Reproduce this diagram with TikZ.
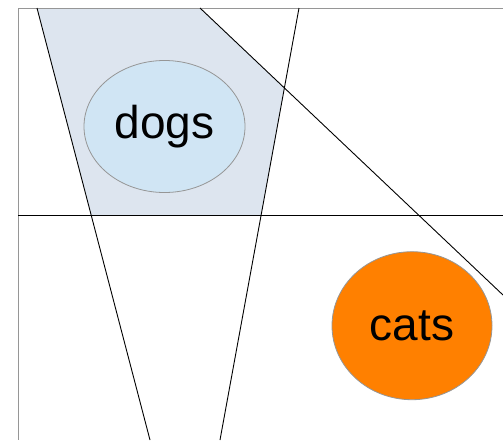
\documentclass[tikz,border=0pt]{standalone}
\usepackage{fontspec}
\setmainfont{Liberation Sans}
\usetikzlibrary{shapes.geometric,calc}
\definecolor{regionfill}{RGB}{221,229,239}
\definecolor{dogfill}{RGB}{208,229,244}
\definecolor{catfill}{RGB}{255,128,0}
\definecolor{framegray}{RGB}{150,150,150}
\tikzset{
  blob/.style={ellipse, draw=framegray, line width=0.8pt, inner sep=0pt, font=\fontsize{46}{52}\selectfont},
  thin line/.style={draw=black, line width=0.9pt},
  frame line/.style={draw=framegray, line width=0.9pt}
}
\begin{document}
\begin{tikzpicture}[x=1pt,y=-1pt]
\useasboundingbox (0,0) rectangle (503,440);
% key coordinates
\coordinate (l1t) at (37,8);
\coordinate (l1b) at (150,440);
\coordinate (l2t) at (299,8);
\coordinate (l2b) at (220,440);
\coordinate (l3t) at (200,8);
\coordinate (l3b) at (503,295);
\coordinate (hl) at (18,215.5);
\coordinate (hr) at (503,215.5);
\coordinate (X) at (intersection of l2t--l2b and l3t--l3b);
\coordinate (A) at (intersection of l1t--l1b and hl--hr);
\coordinate (B) at (intersection of l2t--l2b and hl--hr);
% shaded region
\fill[regionfill] (l1t) -- (l3t) -- (X) -- (B) -- (A) -- cycle;
\draw[framegray, line width=0.9pt] (A) -- (B);
% frame
\coordinate (ftl) at (18.5,8);
\coordinate (ftr) at (503,8);
\coordinate (fbl) at (18.5,440);
\draw[frame line] (ftr) -- (ftl) -- (fbl);
% lines
\draw[thin line] (hl) -- (hr);
\draw[thin line] (l1t) -- (l1b);
\draw[thin line] (l2t) -- (l2b);
\draw[thin line] (l3t) -- (l3b);
% nodes
\node[blob, fill=dogfill, minimum width=161pt, minimum height=132pt] (dogs) at (164.5,126.5) {dogs};
\node[blob, fill=catfill, minimum width=160pt, minimum height=148pt] (cats) at (412,325.7) {cats};
\end{tikzpicture}
\end{document}
